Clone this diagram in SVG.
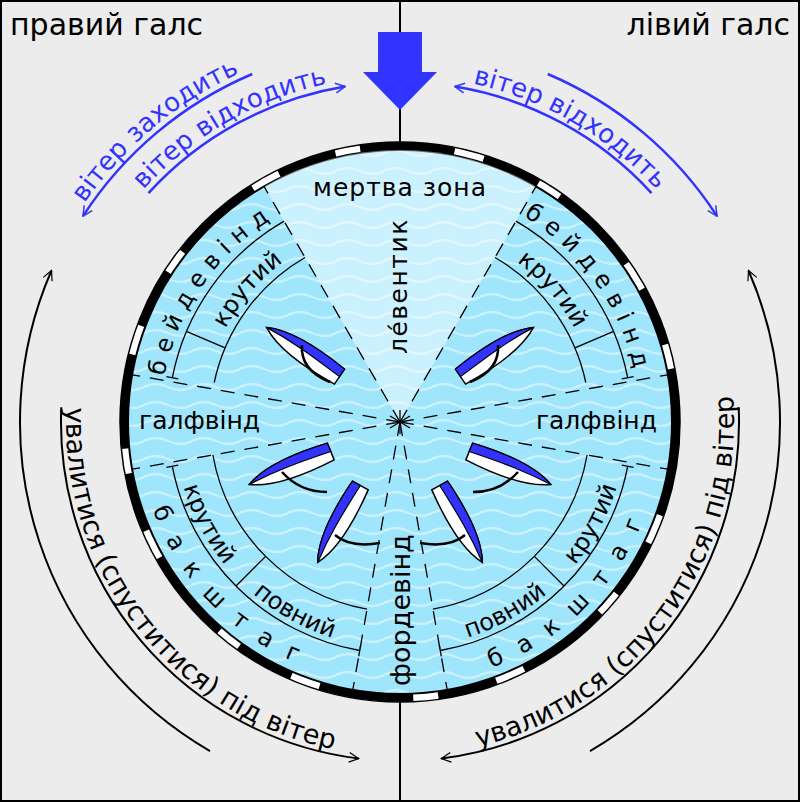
<svg xmlns="http://www.w3.org/2000/svg" xmlns:xlink="http://www.w3.org/1999/xlink" width="800" height="802" viewBox="0 0 800 802">
<style>
text{font-family:"DejaVu Sans","Liberation Sans",sans-serif;fill:#000}
.blue{fill:#3333ff;font-size:26px}
.lbl{font-size:25px}
.big{font-size:30px}
.arc{font-size:24px}
.thin{fill:none;stroke:#000;stroke-width:1.3}
.dash{fill:none;stroke:#000;stroke-width:1.3;stroke-dasharray:14 10}
.barrow{fill:none;stroke:#3333ff;stroke-width:2.5;marker-end:url(#ab)}
.karrow{fill:none;stroke:#000;stroke-width:2;marker-end:url(#ak)}
.sheet{fill:none;stroke:#000;stroke-width:2.5}
</style>
<defs>
<marker id="ab" viewBox="0 0 20 20" refX="18" refY="10" markerWidth="12" markerHeight="12" markerUnits="userSpaceOnUse" orient="auto"><path d="M2,2 L18,10 L2,18" fill="none" stroke="#3333ff" stroke-width="2.5"/></marker>
<marker id="ak" viewBox="0 0 20 20" refX="18" refY="10" markerWidth="12" markerHeight="12" markerUnits="userSpaceOnUse" orient="auto"><path d="M2,2 L18,10 L2,18" fill="none" stroke="#000" stroke-width="2"/></marker>
<pattern id="waves" width="48" height="18" patternUnits="userSpaceOnUse">
<rect width="48" height="18" fill="#9fe5fb"/>
<path d="M0,9 Q12,3 24,9 T48,9" fill="none" stroke="#c9f1fd" stroke-width="2.5"/>
</pattern>
<g id="boat">
<path d="M0,-44 C13,-20 11,22 9,44 L-9,44 C-11,22 -13,-20 0,-44 Z" fill="#fff" stroke="#000" stroke-width="1.5"/>
<path d="M0,-44 C13,-20 11,22 9,44 L0,44 C2,10 3,-15 0,-44 Z" fill="#3333ff" stroke="#000" stroke-width="1.2"/>
</g>
<path id="t1" d="M67.4,230 A384,384 0 0 1 268.7,61.2"/>
<path id="t2" d="M116.6,223.5 A346,346 0 0 1 369.8,77.3"/>
<path id="t3" d="M430.2,77.3 A346,346 0 0 1 683.4,223.5"/>
<path id="t4" d="M73.3,352.6 A334,334 0 0 0 388.3,755.8"/>
<path id="t5" d="M423.3,755.2 A334,334 0 0 0 724.1,341.2"/>
<path id="bdL" d="M160.9,401.1 A240,240 0 0 1 298.6,204.5"/>
<path id="bdR" d="M501.4,204.5 A240,240 0 0 1 639.1,401.1"/>
<path id="krTL" d="M205.6,384.2 A198,198 0 0 1 335.5,234.8"/>
<path id="krTR" d="M464.5,234.8 A198,198 0 0 1 594.4,384.2"/>
<path id="bkL" d="M139,444.8 A262,262 0 0 0 377.2,683"/>
<path id="bkR" d="M427.4,682.6 A262,262 0 0 0 661.4,440.3"/>
<path id="krBL" d="M174.1,414.1 A226,226 0 0 0 280.2,613.6"/>
<path id="pvBL" d="M206.3,538.4 A226,226 0 0 0 404,648"/>
<path id="pvBR" d="M396.1,648 A226,226 0 0 0 593.7,538.4"/>
<path id="krBR" d="M519.8,613.7 A226,226 0 0 0 625.9,414.1"/>
</defs>

<rect x="1" y="1" width="798" height="800" fill="#ececec" stroke="#000" stroke-width="2"/>
<line x1="400" y1="0" x2="400" y2="802" stroke="#000" stroke-width="2"/>

<g id="wheel">
<circle cx="400" cy="422" r="276" fill="none" stroke="#fff" stroke-width="8"/>
<circle cx="400" cy="422" r="276" fill="none" stroke="#000" stroke-width="8" stroke-dasharray="95 30 60 25"/>
<circle cx="400" cy="422" r="280" fill="none" stroke="#000" stroke-width="1.5"/>
<circle cx="400" cy="422" r="272" fill="url(#waves)" stroke="#000" stroke-width="2"/>
<path d="M400,422 L264,186.4 A272,272 0 0 1 536,186.4 Z" fill="#fff" fill-opacity="0.45"/>
</g>

<g id="sectors">
<path class="dash" d="M400,422 L264,186.4 M400,422 L536,186.4 M400,422 L132.1,374.8 M400,422 L667.9,374.8 M400,422 L132.1,469.2 M400,422 L667.9,469.2 M400,422 L352.8,689.9 M400,422 L447.2,689.9"/>
<path class="thin" d="M390,416 L410,428 M390,428 L410,416 M400,410 L400,434"/>
<path class="thin" d="M284,221.1 A232,232 0 0 0 172.3,377.7 M178.2,378.9 L166.4,376.6 M305,257.5 A190,190 0 0 0 214.2,382.5 M225.1,347.8 L186.4,331.4"/>
<path class="thin" d="M516,221.1 A232,232 0 0 1 627.7,377.7 M621.8,378.9 L633.6,376.6 M495,257.5 A190,190 0 0 1 585.8,382.5 M574.9,347.8 L613.6,331.4"/>
<path class="thin" d="M172.3,466.3 A232,232 0 0 0 359.7,650.5 M178.2,465.1 L166.4,467.4 M360.8,644.6 L358.7,656.4 M212.9,455 A190,190 0 0 0 367,609.1 M265.6,556.4 L236,586"/>
<path class="thin" d="M627.7,466.3 A232,232 0 0 1 440.3,650.5 M621.8,465.1 L633.6,467.4 M439.2,644.6 L441.3,656.4 M587.1,455 A190,190 0 0 1 433,609.1 M534.4,556.4 L564,586"/>
</g>

<g id="boats">
<use xlink:href="#boat" transform="translate(303,352) rotate(-56)"/>
<path class="sheet" d="M302,345 Q300,370 330,382" stroke-width="2"/>
<use xlink:href="#boat" transform="translate(497,352) rotate(56) scale(-1,1)"/>
<path class="sheet" d="M498,345 Q500,370 470,382" stroke-width="2"/>
<use xlink:href="#boat" transform="translate(290,468) rotate(-112)"/>
<path class="sheet" d="M282,472 Q300,492 327,492"/>
<use xlink:href="#boat" transform="translate(510,468) rotate(112) scale(-1,1)"/>
<path class="sheet" d="M518,472 Q500,492 473,492"/>
<use xlink:href="#boat" transform="translate(339,524) rotate(-151)"/>
<path class="sheet" d="M335,535 Q350,548 380,543"/>
<use xlink:href="#boat" transform="translate(461,524) rotate(151) scale(-1,1)"/>
<path class="sheet" d="M465,535 Q450,548 420,543"/>
</g>

<g id="labels">
<text class="big" x="10" y="35">правий галс</text>
<text class="big" x="790" y="35" text-anchor="end">лівий галс</text>
<polygon points="378,32 422,32 422,72 437,72 400,110 363,72 378,72" fill="#3333ff"/>
<text class="lbl" x="400" y="196" text-anchor="middle" letter-spacing="1">мертва зона</text>
<text class="lbl" transform="translate(407,354) rotate(-90)" letter-spacing="1.5">ле́вентик</text>
<text class="lbl" transform="translate(410,686) rotate(-90)" style="font-size:27px">фордевінд</text>
<text class="lbl" x="139" y="429">галфвінд</text>
<text class="lbl" x="657" y="429" text-anchor="end">галфвінд</text>
<text class="arc" letter-spacing="8"><textPath xlink:href="#bdL" startOffset="50%" text-anchor="middle">бейдевінд</textPath></text>
<text class="arc" letter-spacing="8"><textPath xlink:href="#bdR" startOffset="50%" text-anchor="middle">бейдевінд</textPath></text>
<text class="arc"><textPath xlink:href="#krTL" startOffset="50%" text-anchor="middle">крутий</textPath></text>
<text class="arc"><textPath xlink:href="#krTR" startOffset="50%" text-anchor="middle">крутий</textPath></text>
<text class="arc" letter-spacing="18"><textPath xlink:href="#bkL" startOffset="50%" text-anchor="middle">бакштаг</textPath></text>
<text class="arc" letter-spacing="18"><textPath xlink:href="#bkR" startOffset="50%" text-anchor="middle">бакштаг</textPath></text>
<text class="arc"><textPath xlink:href="#krBL" startOffset="50%" text-anchor="middle">крутий</textPath></text>
<text class="arc"><textPath xlink:href="#pvBL" startOffset="50%" text-anchor="middle">повний</textPath></text>
<text class="arc"><textPath xlink:href="#pvBR" startOffset="50%" text-anchor="middle">повний</textPath></text>
<text class="arc"><textPath xlink:href="#krBR" startOffset="50%" text-anchor="middle">крутий</textPath></text>
<text class="blue"><textPath xlink:href="#t1" startOffset="50%" text-anchor="middle">вітер заходить</textPath></text>
<text class="blue"><textPath xlink:href="#t2" startOffset="50%" text-anchor="middle">вітер відходить</textPath></text>
<text class="blue"><textPath xlink:href="#t3" startOffset="50%" text-anchor="middle">вітер відходить</textPath></text>
<text style="font-size:27px"><textPath xlink:href="#t4" startOffset="50%" text-anchor="middle">увалитися (спуститися) під вітер</textPath></text>
<text style="font-size:27px"><textPath xlink:href="#t5" startOffset="50%" text-anchor="middle">увалитися (спуститися) під вітер</textPath></text>
</g>

<g id="connectors">
<path class="barrow" d="M252.3,74 A378,378 0 0 0 83,216.1"/>
<path class="barrow" d="M148.5,193.2 A340,340 0 0 1 345.1,86.5"/>
<path class="barrow" d="M547.7,74 A378,378 0 0 1 717,216.1"/>
<path class="barrow" d="M651.5,193.2 A340,340 0 0 0 454.9,86.5"/>
<path class="karrow" d="M210,751.1 A380,380 0 0 1 51.5,270.5"/>
<path class="karrow" d="M61.3,407.2 A339,339 0 0 0 358.7,758.5"/>
<path class="karrow" d="M590,751.1 A380,380 0 0 0 748.5,270.5"/>
<path class="karrow" d="M738.7,407.2 A339,339 0 0 1 441.3,758.5"/>
</g>
</svg>
